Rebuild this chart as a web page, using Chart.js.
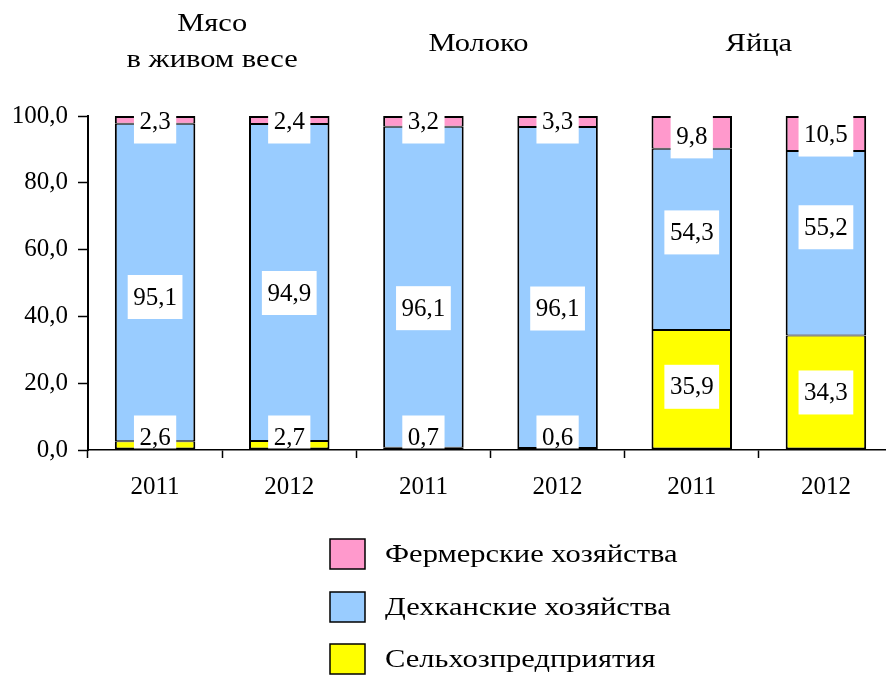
<!DOCTYPE html>
<html><head><meta charset="utf-8">
<script src="https://cdn.jsdelivr.net/npm/chart.js@4/dist/chart.umd.min.js"></script>
<style>html,body{margin:0;padding:0;overflow:hidden;background:#fff;} #wrap{width:893px;height:677px;}</style>
</head><body><div id="wrap"><canvas id="c" width="893" height="677"></canvas></div>
<script>
const categories = ['2011', '2012', '2011', '2012', '2011', '2012'];
const groupTitles = [['Мясо', 'в живом весе'], ['Молоко'], ['Яйца']];
const seriesNames = ['Сельхозпредприятия', 'Дехканские хозяйства', 'Фермерские хозяйства'];
const agriValues = [2.6, 2.7, 0.7, 0.6, 35.9, 34.3];
const dehkanValues = [95.1, 94.9, 96.1, 96.1, 54.3, 55.2];
const farmerValues = [2.3, 2.4, 3.2, 3.3, 9.8, 10.5];
const yMin = 0, yMax = 100, yStep = 20;

const FONT = "'Liberation Serif', 'Times New Roman', serif";
const colors = ['#FFFF00', '#99CCFF', '#FF99CC'];
const fmt = v => v.toFixed(1).replace('.', ',');
const CYR_STRETCH = 1.22;

// label nudges (px) per dataset, to mimic label placement of the original
const labelNudge = [
  [0, 0, 0, 0, -3, 0],
  [14.5, 10.5, 21, 21, -7, -16],
  [0, 0, 0, 0, 4, 1]
];

function stretchText(ctx, txt, x, y, sx, align) {
  ctx.save();
  ctx.translate(x, y);
  ctx.scale(sx, 1);
  ctx.textAlign = align;
  ctx.fillText(txt, 0, 0);
  ctx.restore();
}

const valueLabels = {
  id: 'valueLabels',
  afterDatasetsDraw(chart) {
    const ctx = chart.ctx, ca = chart.chartArea;
    ctx.save();
    ctx.font = '25px ' + FONT;
    ctx.textAlign = 'center';
    ctx.textBaseline = 'middle';
    chart.data.datasets.forEach((ds, di) => {
      const meta = chart.getDatasetMeta(di);
      meta.data.forEach((el, i) => {
        const txt = fmt(ds.data[i]);
        let cy = (el.y + el.base) / 2 + labelNudge[di][i];
        cy = Math.min(Math.max(cy, ca.top + 5.5), ca.bottom - 12.5);
        const w = ctx.measureText(txt).width + 11;
        const h = 44;
        let top = cy - h / 2, bot = Math.min(cy + h / 2, ca.bottom - 1.5);
        ctx.fillStyle = '#fff';
        ctx.fillRect(el.x - w / 2, top, w, bot - top);
        ctx.fillStyle = '#000';
        ctx.fillText(txt, el.x, cy + 1);
      });
    });
    ctx.restore();
  }
};

const extras = {
  id: 'extras',
  afterDraw(chart) {
    const ctx = chart.ctx;
    const xs = chart.scales.x;
    ctx.save();
    ctx.fillStyle = '#000';
    ctx.font = '25px ' + FONT;
    ctx.textBaseline = 'middle';
    // group titles
    const titleShift = [-10, -12, 0];
    groupTitles.forEach((lines, g) => {
      const cx = (xs.getPixelForValue(2 * g) + xs.getPixelForValue(2 * g + 1)) / 2 + titleShift[g];
      if (lines.length === 2) {
        stretchText(ctx, lines[0], cx, 24, CYR_STRETCH, 'center');
        stretchText(ctx, lines[1], cx, 60, CYR_STRETCH, 'center');
      } else {
        stretchText(ctx, lines[0], cx, 44, CYR_STRETCH, 'center');
      }
    });
    // legend (top to bottom: last dataset first)
    const rows = [554, 607, 659];
    const dsList = chart.data.datasets.slice().reverse();
    dsList.forEach((ds, k) => {
      const y = rows[k];
      ctx.fillStyle = ds.backgroundColor;
      ctx.fillRect(330, y - 15, 35, 30);
      ctx.strokeStyle = '#000';
      ctx.lineWidth = 1.5;
      ctx.strokeRect(330, y - 15, 35, 30);
      ctx.fillStyle = '#000';
      stretchText(ctx, ds.label, 385, y + 1, CYR_STRETCH, 'left');
    });
    ctx.restore();
  }
};

const mkBorder = (di) => {
  if (di === 0) return { top: 1, bottom: 2, left: 2, right: 2 };
  if (di === 2) return { top: 2, bottom: 1, left: 2, right: 2 };
  return { top: 1, bottom: 1, left: 2, right: 2 };
};

const seriesValues = [agriValues, dehkanValues, farmerValues];

new Chart(document.getElementById('c'), {
  type: 'bar',
  data: {
    labels: categories,
    datasets: seriesValues.map((vals, di) => ({
      label: seriesNames[di],
      data: vals,
      backgroundColor: colors[di],
      borderColor: '#000',
      borderWidth: mkBorder(di),
      borderSkipped: false,
      categoryPercentage: 1,
      barPercentage: 0.6
    }))
  },
  options: {
    responsive: false,
    animation: false,
    layout: { padding: { top: 116, left: 0, right: 0, bottom: 0 } },
    plugins: { legend: { display: false }, tooltip: { enabled: false } },
    scales: {
      x: {
        stacked: true,
        ticks: { font: { size: 25, family: FONT }, color: '#000', padding: 14, maxRotation: 0 },
        grid: { offset: true, drawOnChartArea: false, tickLength: 8, tickColor: '#000', tickWidth: 1.5 },
        border: { color: '#000', width: 1.5 },
        afterFit: s => { s.height = 227; }
      },
      y: {
        stacked: true, min: yMin, max: yMax,
        ticks: { stepSize: yStep, padding: 10, font: { size: 25, family: FONT }, color: '#000', callback: v => fmt(v) },
        grid: { drawOnChartArea: false, tickLength: 10, tickColor: '#000', tickWidth: 1.5 },
        border: { color: '#000', width: 2 },
        afterFit: s => { s.width = 88; }
      }
    }
  },
  plugins: [valueLabels, extras]
});
</script>
</body></html>
